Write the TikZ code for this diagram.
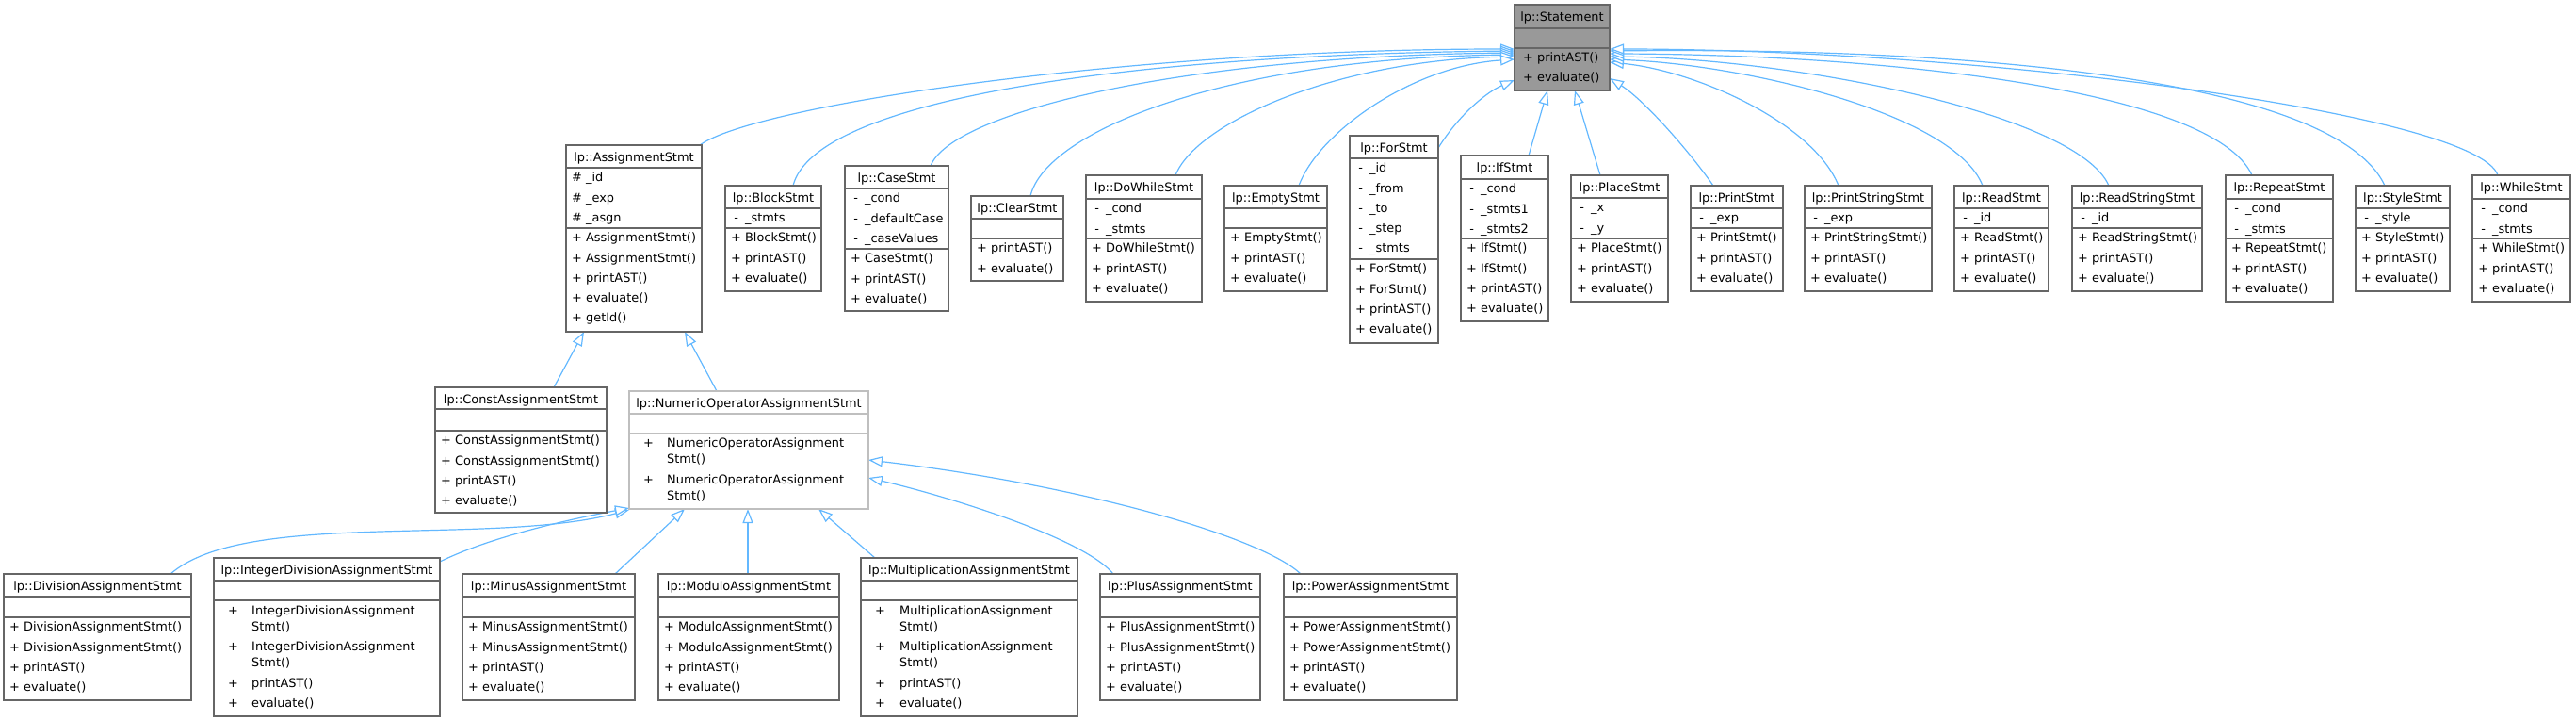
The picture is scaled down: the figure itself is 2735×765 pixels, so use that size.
\documentclass[tikz,border=0pt]{standalone}
\usepackage{fontspec}
\setmainfont{DejaVu Sans}
\usetikzlibrary{arrows.meta,backgrounds}
\definecolor{edgeblue}{HTML}{63B8FF}
\definecolor{boxgray}{HTML}{666666}
\definecolor{lightbox}{HTML}{BFBFBF}
\definecolor{stmtfill}{HTML}{999999}
\tikzset{
  box/.style={draw=boxgray, line width=1.3pt, inner sep=0pt, outer sep=0pt, fill=white},
  sepline/.style={line width=1.3pt},
  txt/.style={anchor=base west, inner sep=0pt, font=\fontsize{12.9pt}{15pt}\selectfont},
  ttl/.style={anchor=base, inner sep=0pt, font=\fontsize{12.9pt}{15pt}\selectfont},
  inh/.style={draw=edgeblue, line width=1.2pt, -{Triangle[length=15pt,width=11pt,fill=white]}},
}
\newcommand\mpub[1]{\makebox[0.84em][c]{+}\hspace{0.318em}#1}
\newcommand\mpriv[1]{\makebox[0.84em][c]{-}\hspace{0.318em}#1}
\newcommand\mprot[1]{\makebox[0.84em][c]{\#}\hspace{0.318em}#1}
% name, x1, y1, x2, ysep1, ysep2, y2, title, border colour
\newcommand\umlbox[9]{%
  \node[box, draw=#9, minimum width={(#4-#2)*1pt}, minimum height={(#7-#3)*1pt}, anchor=north west] (#1) at (#2,#3) {};
  \draw[sepline, draw=#9] (#2,#5) -- (#4,#5) (#2,#6) -- (#4,#6);
  \node[ttl] (#1-title) at ({(#2+#4)/2},{#3+17.3}) {#8};
}
% prefix, x, first baseline, list
\newcommand\rows[4]{%
  \foreach \rowtxt [count=\ri from 0] in {#4} {\node[txt] (#1\ri) at (#2,{#3+\ri*21.3}) {\rowtxt};}
}
% prefix, plus x, name x, baseline, first line
\newcommand\wrapctor[5]{%
  \node[txt] (#1p) at (#2,#4) {+};
  \node[txt] (#1a) at (#3,#4) {#5};
  \node[txt] (#1b) at (#3,{#4+17}) {Stmt()};
}
\begin{document}
\begin{tikzpicture}[x=1pt,y=-1pt]
\useasboundingbox (0,0) rectangle (2735,765);

% ---------- top row ----------
\begin{scope}[box/.append style={fill=stmtfill}]
\umlbox{stmt}{1608}{5}{1709}{30}{51}{96}{lp::Statement}{boxgray}
\end{scope}
\rows{stmt-m}{1617}{65.7}{\mpub{printAST()},\mpub{evaluate()}}

\umlbox{assign}{601}{154}{745}{178}{242}{352}{lp::AssignmentStmt}{boxgray}
\rows{assign-a}{607}{192.7}{\mprot{\_id},\mprot{\_exp},\mprot{\_asgn}}
\rows{assign-m}{607}{256.7}{\mpub{AssignmentStmt()},\mpub{AssignmentStmt()},\mpub{printAST()},\mpub{evaluate()},\mpub{getId()}}

\umlbox{block}{770}{197}{872}{221}{242}{309}{lp::BlockStmt}{boxgray}
\rows{block-a}{776}{235.7}{\mpriv{\_stmts}}
\rows{block-m}{776}{256.7}{\mpub{BlockStmt()},\mpub{printAST()},\mpub{evaluate()}}

\umlbox{case}{897}{176}{1007}{200}{264}{330}{lp::CaseStmt}{boxgray}
\rows{case-a}{903}{214.7}{\mpriv{\_cond},\mpriv{\_defaultCase},\mpriv{\_caseValues}}
\rows{case-m}{903}{278.7}{\mpub{CaseStmt()},\mpub{printAST()},\mpub{evaluate()}}

\umlbox{clear}{1031}{208}{1129}{232}{253}{298}{lp::ClearStmt}{boxgray}
\rows{clear-m}{1037}{267.7}{\mpub{printAST()},\mpub{evaluate()}}

\umlbox{dowhile}{1153}{186}{1276}{211}{253}{320}{lp::DoWhileStmt}{boxgray}
\rows{dowhile-a}{1159}{225.7}{\mpriv{\_cond},\mpriv{\_stmts}}
\rows{dowhile-m}{1159}{267.7}{\mpub{DoWhileStmt()},\mpub{printAST()},\mpub{evaluate()}}

\umlbox{empty}{1300}{197}{1409}{221}{242}{309}{lp::EmptyStmt}{boxgray}
\rows{empty-m}{1306}{256.7}{\mpub{EmptyStmt()},\mpub{printAST()},\mpub{evaluate()}}

\umlbox{for}{1433}{144}{1527}{168}{275}{364}{lp::ForStmt}{boxgray}
\rows{for-a}{1439}{182.7}{\mpriv{\_id},\mpriv{\_from},\mpriv{\_to},\mpriv{\_step},\mpriv{\_stmts}}
\rows{for-m}{1439}{289.7}{\mpub{ForStmt()},\mpub{ForStmt()},\mpub{printAST()},\mpub{evaluate()}}

\umlbox{if}{1551}{165}{1644}{190}{253}{341}{lp::IfStmt}{boxgray}
\rows{if-a}{1557}{204.7}{\mpriv{\_cond},\mpriv{\_stmts1},\mpriv{\_stmts2}}
\rows{if-m}{1557}{267.7}{\mpub{IfStmt()},\mpub{IfStmt()},\mpub{printAST()},\mpub{evaluate()}}

\umlbox{place}{1668}{186}{1771}{210}{253}{320}{lp::PlaceStmt}{boxgray}
\rows{place-a}{1674}{224.7}{\mpriv{\_x},\mpriv{\_y}}
\rows{place-m}{1674}{267.7}{\mpub{PlaceStmt()},\mpub{printAST()},\mpub{evaluate()}}

\umlbox{print}{1795}{197}{1893}{221}{242}{309}{lp::PrintStmt}{boxgray}
\rows{print-a}{1801}{235.7}{\mpriv{\_exp}}
\rows{print-m}{1801}{256.7}{\mpub{PrintStmt()},\mpub{printAST()},\mpub{evaluate()}}

\umlbox{printstring}{1916}{197}{2051}{221}{242}{309}{lp::PrintStringStmt}{boxgray}
\rows{printstring-a}{1922}{235.7}{\mpriv{\_exp}}
\rows{printstring-m}{1922}{256.7}{\mpub{PrintStringStmt()},\mpub{printAST()},\mpub{evaluate()}}

\umlbox{read}{2075}{197}{2175}{221}{242}{309}{lp::ReadStmt}{boxgray}
\rows{read-a}{2081}{235.7}{\mpriv{\_id}}
\rows{read-m}{2081}{256.7}{\mpub{ReadStmt()},\mpub{printAST()},\mpub{evaluate()}}

\umlbox{readstring}{2200}{197}{2338}{221}{242}{309}{lp::ReadStringStmt}{boxgray}
\rows{readstring-a}{2206}{235.7}{\mpriv{\_id}}
\rows{readstring-m}{2206}{256.7}{\mpub{ReadStringStmt()},\mpub{printAST()},\mpub{evaluate()}}

\umlbox{repeat}{2363}{186}{2477}{211}{253}{320}{lp::RepeatStmt}{boxgray}
\rows{repeat-a}{2369}{225.7}{\mpriv{\_cond},\mpriv{\_stmts}}
\rows{repeat-m}{2369}{267.7}{\mpub{RepeatStmt()},\mpub{printAST()},\mpub{evaluate()}}

\umlbox{style}{2501}{197}{2601}{221}{242}{309}{lp::StyleStmt}{boxgray}
\rows{style-a}{2507}{235.7}{\mpriv{\_style}}
\rows{style-m}{2507}{256.7}{\mpub{StyleStmt()},\mpub{printAST()},\mpub{evaluate()}}

\umlbox{while}{2625}{186}{2729}{211}{253}{320}{lp::WhileStmt}{boxgray}
\rows{while-a}{2631}{225.7}{\mpriv{\_cond},\mpriv{\_stmts}}
\rows{while-m}{2631}{267.7}{\mpub{WhileStmt()},\mpub{printAST()},\mpub{evaluate()}}

% ---------- second row ----------
\umlbox{const}{462}{411}{644}{434}{457}{544}{lp::ConstAssignmentStmt}{boxgray}
\rows{const-m}{468}{471.7}{\mpub{ConstAssignmentStmt()},\mpub{ConstAssignmentStmt()},\mpub{printAST()},\mpub{evaluate()}}

\umlbox{numeric}{668}{415}{922}{439}{460}{540}{lp::NumericOperatorAssignmentStmt}{lightbox}
\wrapctor{numeric-c0}{683}{708}{474.7}{NumericOperatorAssignment}
\wrapctor{numeric-c1}{683}{708}{513.4}{NumericOperatorAssignment}

% ---------- third row ----------
\umlbox{division}{4}{609}{203}{633}{655}{743}{lp::DivisionAssignmentStmt}{boxgray}
\rows{division-m}{10}{669.7}{\mpub{DivisionAssignmentStmt()},\mpub{DivisionAssignmentStmt()},\mpub{printAST()},\mpub{evaluate()}}

\umlbox{intdiv}{227}{592}{467}{616}{637}{760}{lp::IntegerDivisionAssignmentStmt}{boxgray}
\wrapctor{intdiv-c0}{242}{267}{652}{IntegerDivisionAssignment}
\wrapctor{intdiv-c1}{242}{267}{690.5}{IntegerDivisionAssignment}
\node[txt] (intdiv-p2) at (242,729) {+};
\node[txt] (intdiv-m2) at (267,729) {printAST()};
\node[txt] (intdiv-p3) at (242,750.7) {+};
\node[txt] (intdiv-m3) at (267,750.7) {evaluate()};

\umlbox{minus}{491}{609}{674}{633}{655}{743}{lp::MinusAssignmentStmt}{boxgray}
\rows{minus-m}{497}{669.7}{\mpub{MinusAssignmentStmt()},\mpub{MinusAssignmentStmt()},\mpub{printAST()},\mpub{evaluate()}}

\umlbox{modulo}{699}{609}{891}{633}{655}{743}{lp::ModuloAssignmentStmt}{boxgray}
\rows{modulo-m}{705}{669.7}{\mpub{ModuloAssignmentStmt()},\mpub{ModuloAssignmentStmt()},\mpub{printAST()},\mpub{evaluate()}}

\umlbox{mult}{914}{592}{1144}{616}{637}{760}{lp::MultiplicationAssignmentStmt}{boxgray}
\wrapctor{mult-c0}{929}{955}{652}{MultiplicationAssignment}
\wrapctor{mult-c1}{929}{955}{690.5}{MultiplicationAssignment}
\node[txt] (mult-p2) at (929,729) {+};
\node[txt] (mult-m2) at (955,729) {printAST()};
\node[txt] (mult-p3) at (929,750.7) {+};
\node[txt] (mult-m3) at (955,750.7) {evaluate()};

\umlbox{plus}{1168}{609}{1338}{633}{655}{743}{lp::PlusAssignmentStmt}{boxgray}
\rows{plus-m}{1174}{669.7}{\mpub{PlusAssignmentStmt()},\mpub{PlusAssignmentStmt()},\mpub{printAST()},\mpub{evaluate()}}

\umlbox{power}{1363}{609}{1547}{633}{655}{743}{lp::PowerAssignmentStmt}{boxgray}
\rows{power-m}{1369}{669.7}{\mpub{PowerAssignmentStmt()},\mpub{PowerAssignmentStmt()},\mpub{printAST()},\mpub{evaluate()}}

% ---------- inheritance edges ----------
\begin{pgfonlayer}{background}
\draw[inh] ([xshift=142pt]assign.north west) .. controls (800,112) and (1200,52) .. ([yshift=-47pt]stmt.north west);
\draw[inh] ([xshift=72pt]block.north west) .. controls (865,105) and (1200,58) .. ([yshift=-49pt]stmt.north west);
\draw[inh] ([xshift=91pt]case.north west) .. controls (1010,120) and (1250,60) .. ([yshift=-51pt]stmt.north west);
\draw[inh] ([xshift=63pt]clear.north west) .. controls (1110,140) and (1300,62) .. ([yshift=-53pt]stmt.north west);
\draw[inh] ([xshift=95pt]dowhile.north west) .. controls (1270,130) and (1420,64) .. ([yshift=-55pt]stmt.north west);
\draw[inh] ([xshift=79pt]empty.north west) .. controls (1400,140) and (1500,70) .. ([yshift=-58pt]stmt.north west);
\draw[inh] ([yshift=-13pt]for.north east) .. controls (1550,120) and (1580,97) .. ([yshift=-80pt]stmt.north west);
\draw[inh] ([xshift=72pt]if.north west) -- ([xshift=35pt]stmt.south west);
\draw[inh] ([xshift=31pt]place.north west) -- ([xshift=64pt]stmt.south west);
\draw[inh] ([xshift=24pt]print.north west) .. controls (1797,165) and (1747,107) .. ([yshift=-78pt]stmt.north east);
\draw[inh] ([xshift=36pt]printstring.north west) .. controls (1925,130) and (1800,75) .. ([yshift=-61pt]stmt.north east);
\draw[inh] ([xshift=30pt]read.north west) .. controls (2075,120) and (1850,68) .. ([yshift=-58pt]stmt.north east);
\draw[inh] ([xshift=39pt]readstring.north west) .. controls (2205,120) and (1900,62) .. ([yshift=-55pt]stmt.north east);
\draw[inh] ([xshift=28pt]repeat.north west) .. controls (2350,95) and (2000,58) .. ([yshift=-52pt]stmt.north east);
\draw[inh] ([xshift=31pt]style.north west) .. controls (2480,85) and (2100,50) .. ([yshift=-49pt]stmt.north east);
\draw[inh] ([xshift=27pt]while.north west) .. controls (2630,120) and (2100,52) .. ([yshift=-47pt]stmt.north east);

\draw[inh] ([xshift=126pt]const.north west) -- ([xshift=19pt]assign.south west);
\draw[inh] ([xshift=93pt]numeric.north west) -- ([xshift=126pt]assign.south west);

\draw[inh] ([xshift=177pt]division.north west) .. controls (260,540) and (520,580) .. ([yshift=-1pt]numeric.south west);
\draw[inh] ([yshift=-4pt]intdiv.north east) .. controls (520,570) and (600,552) .. ([yshift=1pt]numeric.south west);
\draw[inh] ([xshift=162pt]minus.north west) -- ([xshift=59pt]numeric.south west);
\draw[inh] ([xshift=95pt]modulo.north west) -- ([xshift=126pt]numeric.south west);
\draw[inh] ([xshift=15pt]mult.north west) -- ([xshift=201pt]numeric.south west);
\draw[inh] ([xshift=14pt]plus.north west) .. controls (1150,570) and (1000,525) .. ([yshift=33pt]numeric.south east);
\draw[inh] ([xshift=18pt]power.north west) .. controls (1340,570) and (1150,515) .. ([yshift=52pt]numeric.south east);
\end{pgfonlayer}
\end{tikzpicture}
\end{document}
